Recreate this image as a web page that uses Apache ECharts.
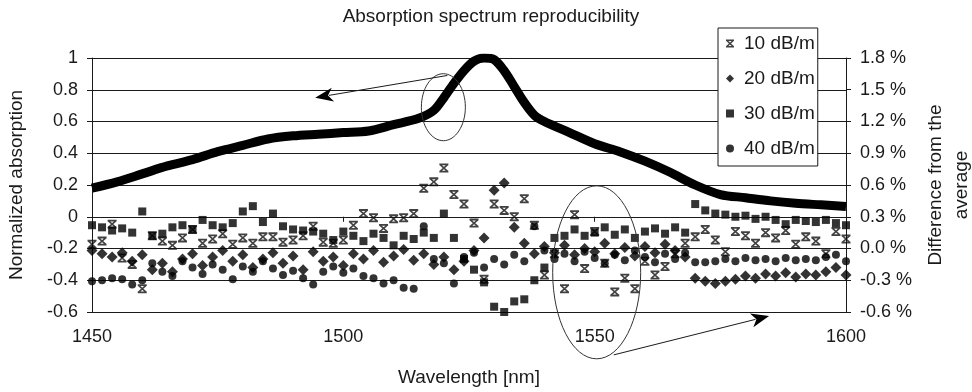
<!DOCTYPE html>
<html>
<head>
<meta charset="utf-8">
<title>Absorption spectrum reproducibility</title>
<script src="https://cdn.jsdelivr.net/npm/echarts@6/dist/echarts.min.js"></script>
<style>
  html, body { margin: 0; padding: 0; background: #fff; }
  #chart { width: 972px; height: 392px; }
</style>
</head>
<body>
<div id="chart"></div>
<script>
// normalized absorption (left axis)
const absWl = [1450, 1455, 1460, 1465, 1470, 1475, 1480, 1485, 1490, 1495, 1500, 1505, 1510,
  1515, 1518, 1520, 1522, 1524, 1526, 1528, 1530, 1532, 1534, 1536, 1538, 1540, 1545, 1550,
  1555, 1560, 1565, 1570, 1575, 1580, 1585, 1590, 1595, 1600];
const absVal = [0.18, 0.22, 0.27, 0.32, 0.36, 0.41, 0.45, 0.49, 0.51, 0.52, 0.53, 0.54, 0.58,
  0.62, 0.67, 0.75, 0.84, 0.92, 0.98, 1.0, 0.99, 0.92, 0.82, 0.72, 0.64, 0.60, 0.53, 0.46,
  0.41, 0.35, 0.28, 0.20, 0.14, 0.12, 0.10, 0.085, 0.075, 0.065];

// difference from the average, % (right axis)
const wavelengths = [
  1450, 1452, 1454, 1456, 1458, 1460, 1462, 1464, 1466, 1468,
  1470, 1472, 1474, 1476, 1478, 1480, 1482, 1484, 1486, 1488,
  1490, 1492, 1494, 1496, 1498, 1500, 1502, 1504, 1506, 1508,
  1510, 1512, 1514, 1516, 1518, 1520, 1522, 1524, 1526, 1528,
  1530, 1532, 1534, 1536, 1538, 1540, 1542, 1544, 1546, 1548,
  1550, 1552, 1554, 1556, 1558, 1560, 1562, 1564, 1566, 1568,
  1570, 1572, 1574, 1576, 1578, 1580, 1582, 1584, 1586, 1588,
  1590, 1592, 1594, 1596, 1598, 1600];
const diff10 = [
  0.04, 0.07, 0.23, -0.09, -0.15, -0.38, 0.12, 0.07, 0.03, 0.10,
  0.18, 0.05, 0.09, 0.14, 0.04, 0.10, 0.05, 0.11, 0.11, 0.06,
  0.08, 0.12, 0.21, 0.06, 0.05, 0.08, 0.22, 0.33, 0.29, 0.19,
  0.28, 0.29, 0.33, 0.57, 0.63, 0.76, 0.51, 0.42, 0.24, -0.29,
  0.42, 0.36, 0.30, 0.47, 0.22, -0.25, -0.05, -0.38, 0.32, -0.19,
  0.16, -0.14, -0.41, -0.28, -0.38, -0.12, -0.25, -0.17, -0.05, 0.05,
  0.11, 0.18, 0.08, -0.03, 0.16, 0.12, 0.05, 0.15, 0.10, 0.17,
  0.04, 0.11, 0.07, -0.05, 0.16, 0.09];
const diff20 = [
  -0.02, -0.05, -0.08, -0.04, -0.12, -0.06, -0.20, -0.14, -0.22, -0.10,
  -0.05, -0.16, -0.08, -0.02, -0.12, -0.06, -0.18, -0.10, -0.04, -0.14,
  -0.07, -0.20, -0.03, -0.12, -0.08, -0.16, -0.05, -0.10, -0.02, -0.13,
  -0.07, -0.01, -0.11, -0.05, -0.15, -0.08, -0.20, -0.12, -0.02, 0.10,
  0.55, 0.62, 0.20, 0.05, -0.05, 0.02, -0.04, 0.03, -0.06, 0.00,
  -0.03, 0.05, -0.05, 0.01, -0.07, 0.02, -0.04, 0.04, -0.02, -0.08,
  -0.28, -0.31, -0.33, -0.31, -0.29, -0.26, -0.28, -0.24, -0.26, -0.23,
  -0.27, -0.24, -0.25, -0.22, -0.18, -0.25];
const diff30 = [
  0.22, 0.20, 0.17, 0.19, 0.15, 0.35, 0.12, 0.14, 0.20, 0.22,
  0.18, 0.27, 0.22, 0.20, 0.24, 0.35, 0.40, 0.25, 0.33, 0.21,
  0.18, 0.17, 0.16, 0.14, 0.08, 0.16, 0.12, 0.07, 0.14, 0.10,
  0.03, 0.12, 0.09, 0.15, 0.10, 0.33, 0.10, -0.10, -0.20, -0.32,
  -0.55, -0.60, -0.50, -0.48, -0.30, -0.18, 0.10, 0.12, 0.18, 0.12,
  0.15, 0.20, 0.13, 0.18, 0.10, 0.16, 0.19, 0.14, 0.20, 0.15,
  0.42, 0.36, 0.33, 0.32, 0.30, 0.31, 0.28, 0.30, 0.27, 0.23,
  0.27, 0.26, 0.25, 0.27, 0.24, 0.22];
const diff40 = [
  -0.31, -0.30, -0.28, -0.29, -0.34, -0.30, -0.14, -0.22, -0.26, -0.12,
  -0.18, -0.24, -0.15, -0.20, -0.29, -0.17, -0.22, -0.12, -0.19, -0.25,
  -0.21, -0.28, -0.34, -0.22, -0.17, -0.23, -0.19, -0.26, -0.28, -0.33,
  -0.30, -0.37, -0.38, 0.21, -0.10, -0.14, -0.33, -0.08, -0.04, -0.18,
  -0.10, -0.15, -0.06, -0.12, 0.21, -0.02, -0.10, -0.05, -0.12, -0.03,
  -0.09, -0.14, -0.06, -0.11, -0.02, -0.08, -0.13, -0.05, -0.10, -0.04,
  -0.13, -0.13, -0.12, -0.10, -0.12, -0.09, -0.11, -0.10, -0.12, -0.09,
  -0.11, -0.10, -0.11, -0.08, -0.06, -0.12];

const seriesNames = ['10 dB/m', '20 dB/m', '30 dB/m', '40 dB/m'];

const FONT = 'Liberation Sans, Arial, sans-serif';
const INK = '#1a1a1a';
// hourglass-like cross used by Excel for the first series
const starSymbol = 'path://M0,0H10V2H0Z M0,8H10V10H0Z M0.3,2H3L9.7,8H7Z M7,2H9.7L3,8H0.3Z';

const pairs = (xs, ys) => xs.map((x, i) => [x, ys[i]]);

const chart = echarts.init(document.getElementById('chart'));

chart.setOption({
  animation: false,
  backgroundColor: '#fff',
  textStyle: { fontFamily: FONT, color: INK },
  title: {
    text: 'Absorption spectrum reproducibility',
    left: 486,
    top: 2,
    textAlign: 'center',
    textStyle: { fontFamily: FONT, fontSize: 19, fontWeight: 'normal', color: INK }
  },
  legend: {
    orient: 'vertical',
    left: 718,
    top: 28,
    padding: [6, 3, 8, 8],
    itemGap: 16,
    itemWidth: 8,
    itemHeight: 8,
    backgroundColor: '#fff',
    borderColor: INK,
    borderWidth: 1,
    borderRadius: 0,
    data: seriesNames,
    textStyle: { fontFamily: FONT, fontSize: 19, lineHeight: 19, color: INK, padding: [0, 0, 0, 5] }
  },
  grid: { left: 92, right: 126, top: 58, bottom: 80, outerBoundsMode: 'none' },
  xAxis: {
    type: 'value',
    min: 1450,
    max: 1600,
    interval: 50,
    name: 'Wavelength [nm]',
    nameLocation: 'middle',
    nameGap: 56,
    nameTextStyle: { fontFamily: FONT, fontSize: 19, color: INK },
    axisLine: { lineStyle: { color: INK, width: 1 } },
    axisTick: { show: true, length: 5, lineStyle: { color: INK } },
    axisLabel: { fontFamily: FONT, fontSize: 18, color: INK, margin: 16, formatter: v => String(v) },
    splitLine: { show: false }
  },
  yAxis: [
    {
      type: 'value',
      min: -0.6,
      max: 1,
      interval: 0.2,
      name: 'Normalized absorption',
      nameLocation: 'middle',
      nameRotate: 90,
      nameGap: 66,
      nameTextStyle: { fontFamily: FONT, fontSize: 19, color: INK },
      axisLine: { show: true, lineStyle: { color: INK, width: 1 } },
      axisTick: { show: true, length: 5, lineStyle: { color: INK } },
      axisLabel: { fontFamily: FONT, fontSize: 18, color: INK, margin: 14 },
      splitLine: { show: true, lineStyle: { color: INK, width: 1 } }
    },
    {
      type: 'value',
      position: 'right',
      min: -0.6,
      max: 1.8,
      interval: 0.3,
      name: 'Difference from the\naverage',
      nameLocation: 'middle',
      nameRotate: 90,
      nameGap: 76,
      nameTextStyle: { fontFamily: FONT, fontSize: 19, color: INK, lineHeight: 26 },
      axisLine: { show: true, lineStyle: { color: INK, width: 1 } },
      axisTick: { show: true, length: 5, lineStyle: { color: INK } },
      axisLabel: {
        fontFamily: FONT, fontSize: 18, color: INK, margin: 14,
        formatter: v => v.toFixed(1) + ' %'
      },
      splitLine: { show: false }
    }
  ],
  series: [
    {
      name: 'absorption',
      type: 'line',
      yAxisIndex: 0,
      data: pairs(absWl, absVal),
      smooth: 0.3,
      showSymbol: false,
      lineStyle: { color: '#000', width: 9 },
      z: 3
    },
    {
      name: seriesNames[0],
      type: 'scatter',
      yAxisIndex: 1,
      data: pairs(wavelengths, diff10),
      symbol: starSymbol,
      symbolSize: 9,
      itemStyle: { color: '#111' },
      z: 4
    },
    {
      name: seriesNames[1],
      type: 'scatter',
      yAxisIndex: 1,
      data: pairs(wavelengths, diff20),
      symbol: 'diamond',
      symbolSize: 11,
      itemStyle: { color: '#000' },
      z: 4
    },
    {
      name: seriesNames[2],
      type: 'scatter',
      yAxisIndex: 1,
      data: pairs(wavelengths, diff30),
      symbol: 'rect',
      symbolSize: 8,
      itemStyle: { color: '#000' },
      z: 4
    },
    {
      name: seriesNames[3],
      type: 'scatter',
      yAxisIndex: 1,
      data: pairs(wavelengths, diff40),
      symbol: 'circle',
      symbolSize: 8,
      itemStyle: { color: '#000' },
      z: 4
    }
  ]
});

// annotations: two ellipses with arrows pointing to the relevant axis
const toPx = p => chart.convertToPixel({ xAxisIndex: 0, yAxisIndex: 0 }, p);

function arrow(fromData, toData) {
  const a = toPx(fromData);
  const b = toPx(toData);
  const dx = b[0] - a[0], dy = b[1] - a[1];
  const d = Math.hypot(dx, dy);
  const ux = dx / d, uy = dy / d;
  const len = 18, half = 7;
  const bx = b[0] - ux * len, by = b[1] - uy * len;
  return [
    {
      type: 'line',
      shape: { x1: a[0], y1: a[1], x2: bx + ux * 4, y2: by + uy * 4 },
      style: { stroke: INK, lineWidth: 1 },
      z: 10
    },
    {
      type: 'polygon',
      shape: { points: [[b[0], b[1]], [bx - uy * half, by + ux * half], [bx + ux * 5, by + uy * 5], [bx + uy * half, by - ux * half]] },
      style: { fill: '#000' },
      z: 10
    }
  ];
}

function ellipse(centerData, rx, ry) {
  const c = toPx(centerData);
  return {
    type: 'ellipse',
    shape: { cx: c[0], cy: c[1], rx: rx, ry: ry },
    style: { fill: null, stroke: '#333', lineWidth: 1 },
    z: 10
  };
}

chart.setOption({
  graphic: [
    ellipse([1519.9, 0.69], 22, 33.5),
    ...arrow([1520.7, 0.89], [1494.4, 0.75]),
    ellipse([1550.4, -0.35], 44, 86.5),
    ...arrow([1553.8, -0.87], [1584.7, -0.625])
  ]
});
</script>
</body>
</html>
